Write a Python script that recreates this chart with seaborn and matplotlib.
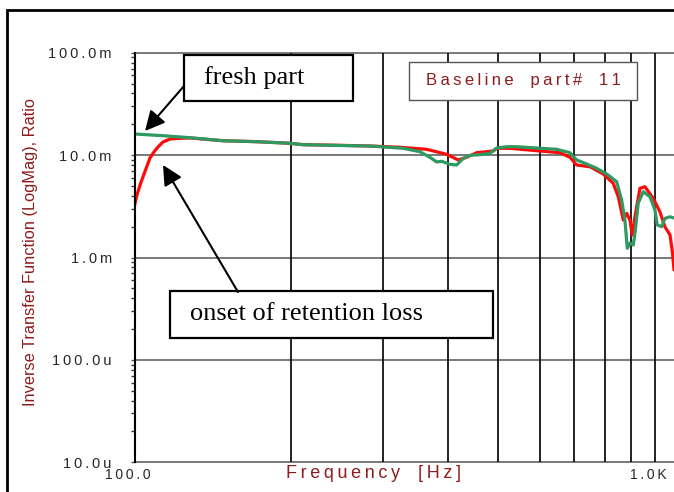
import numpy as np
import pandas as pd
import matplotlib
matplotlib.use("Agg")
import matplotlib.pyplot as plt
from matplotlib.patches import Rectangle, FancyArrowPatch
from matplotlib.transforms import ScaledTranslation
from matplotlib.ticker import FixedLocator, LogLocator, NullFormatter
import seaborn as sns

# Inverse transfer function magnitude (ratio) vs. frequency (Hz)
fresh_freq = [100.1, 113.3, 127.8, 147.8, 171.8, 198.9, 210.6, 248.1, 283.4, 328.2,
              353.4, 369.4, 380.5, 389.0, 403.6, 415.7, 428.1, 441.0, 461.0, 481.8,
              496.4, 518.8, 542.3, 592.4, 647.3, 686.5, 707.2, 739.2, 772.6, 807.6,
              844.1, 863.0, 875.6, 884.7, 895.2, 908.5, 915.4, 928.8, 949.5, 978.2,
              1000.0, 1010.0, 1030.0, 1045.0, 1069.0, 1088.0]
fresh_mag = [0.01607, 0.01547, 0.01479, 0.01382, 0.01352, 0.01304, 0.01264, 0.01241, 0.01227, 0.01165,
             0.01079, 0.00952, 0.00857, 0.00870, 0.00813, 0.00800, 0.00930, 0.00995, 0.01009, 0.01041,
             0.01173, 0.01208, 0.01208, 0.01173, 0.01139, 0.01055, 0.00896, 0.00819, 0.00743, 0.00654,
             0.00550, 0.00364, 0.00232, 0.00123, 0.001385, 0.001325, 0.001735, 0.00340, 0.00439, 0.00392,
             0.00291, 0.00208, 0.00200, 0.00241, 0.00250, 0.00243]

aged_freq = [100.0, 101.0, 102.4, 103.7, 105.6, 107.0, 108.9, 110.4, 113.3, 116.9,
             122.2, 127.8, 147.8, 171.8, 198.9, 210.6, 248.1, 283.4, 323.6, 364.0,
             397.8, 418.6, 434.6, 454.3, 488.9, 496.4, 526.6, 592.4, 656.8, 686.5,
             707.2, 750.2, 795.4, 831.4, 850.2, 869.2, 882.4, 895.2, 904.5, 915.4,
             935.8, 956.7, 992.4, 1022.0, 1045.0, 1069.0, 1081.0, 1088.0]
aged_mag = [0.00326, 0.00408, 0.00510, 0.00611, 0.00783, 0.00937, 0.01072, 0.01173, 0.01342, 0.01436,
            0.01459, 0.01469, 0.01382, 0.01352, 0.01304, 0.01264, 0.01246, 0.01227, 0.01192, 0.01139,
            0.01018, 0.00896, 0.00952, 0.01055, 0.01096, 0.01165, 0.01165, 0.01104, 0.01055, 0.00952,
            0.00800, 0.00770, 0.00654, 0.00530, 0.00392, 0.00232, 0.00270, 0.00232, 0.00166, 0.00250,
            0.00474, 0.00491, 0.00378, 0.00280, 0.00200, 0.00166, 0.00110, 0.000755]

y_ticks = [1e-5, 1e-4, 1e-3, 1e-2, 1e-1]
y_tick_labels = ["10.0u", "100.0u", "1.0m", "10.0m", "100.0m"]
x_ticks = [100, 1000]
x_tick_labels = ["100.0", "1.0K"]
x_grid = [200, 300, 400, 500, 600, 700, 800, 900, 1000]

W, H = 674, 492
sns.set_style("white")
plt.rcParams["font.family"] = ["Liberation Sans", "DejaVu Sans"]

DARK_RED = "#8b1c1c"
GREEN = "#2e9a62"
RED = "#ff0a0a"
SERIF = ["Liberation Serif", "DejaVu Serif"]


def spaced(s):
    # letter-spaced label text
    return "\u2009".join(s.replace(" ", "\u2009\u2009"))


def fx(x):
    return x / W


def fy(y):
    return 1 - y / H


fig = plt.figure(figsize=(W / 100, H / 100), dpi=100)
ax = fig.add_axes([fx(134.7), fy(462.3), 1 - fx(134.7), fy(52.7) - fy(462.3)])

df = pd.concat([
    pd.DataFrame({"freq": aged_freq, "mag": aged_mag, "part": "aged"}),
    pd.DataFrame({"freq": fresh_freq, "mag": fresh_mag, "part": "fresh"}),
])
sns.lineplot(data=df, x="freq", y="mag", hue="part", palette={"aged": RED, "fresh": GREEN},
             ax=ax, linewidth=2.3, legend=False, sort=False, estimator=None, zorder=5)

ax.set_xscale("log")
ax.set_yscale("log")
ax.set_xlim(100, 1088)
ax.set_ylim(1e-5, 1e-1)

# grid
for yv in y_ticks:
    ax.axhline(yv, color="#6e6e6e", lw=1.3, zorder=2, clip_on=False)
for xv in x_grid:
    ax.axvline(xv, color="#111111", lw=1.3, zorder=2)

for side in ["top", "right", "bottom"]:
    ax.spines[side].set_visible(False)
ax.spines["left"].set_color("black")
ax.spines["left"].set_linewidth(1.5)
ax.spines["left"].set_zorder(6)

ax.yaxis.set_major_locator(FixedLocator(y_ticks))
ax.set_yticklabels([spaced(t) for t in y_tick_labels])
ax.yaxis.set_minor_locator(LogLocator(base=10, subs=np.arange(2, 10)))
ax.yaxis.set_minor_formatter(NullFormatter())
ax.tick_params(axis="y", which="major", length=3, width=1, color="#555555",
               pad=13.5, labelsize=10.5, direction="out", left=True)
ax.tick_params(axis="y", which="minor", length=3, width=1, color="#333333",
               direction="out", left=True)

ax.xaxis.set_major_locator(FixedLocator(x_ticks))
ax.set_xticklabels([spaced(t) for t in x_tick_labels])
ax.xaxis.set_minor_locator(FixedLocator([]))
ax.tick_params(axis="x", which="major", length=0, pad=4, labelsize=10, bottom=True)
for lab in ax.get_xticklabels():
    lab.set_transform(lab.get_transform() + ScaledTranslation(-7 / 100, 0, fig.dpi_scale_trans))

ax.set_xlabel("")
ax.set_ylabel("")

fig.text(fx(374), fy(473), spaced("Frequency [Hz]"), color=DARK_RED, fontsize=13,
         ha="center", va="center")
fig.text(fx(31), fy(252), "Inverse Transfer Function (LogMag), Ratio", color=DARK_RED,
         fontsize=11.8, rotation=90, ha="center", va="center")

# outer frame
fig.add_artist(Rectangle((fx(7), fy(520)), 1.2, fy(10) - fy(520), transform=fig.transFigure,
                         fill=False, edgecolor="black", lw=2, zorder=0))


def text_box(x0, y0, x1, y1, text, edge, lw, left_pad=None, **kw):
    fig.add_artist(Rectangle((fx(x0), fy(y1)), fx(x1) - fx(x0), fy(y0) - fy(y1),
                             transform=fig.transFigure, facecolor="white",
                             edgecolor=edge, lw=lw, zorder=8))
    if left_pad is None:
        t = fig.text(fx((x0 + x1) / 2), fy((y0 + y1) / 2), text, ha="center", va="center", **kw)
    else:
        t = fig.text(fx(x0 + left_pad), fy((y0 + y1) / 2), text, ha="left", va="center", **kw)
    t.set_zorder(9)


text_box(184, 55, 353, 101, "fresh part", "black", 1.6, left_pad=20,
         fontsize=19, family=SERIF, color="black")
text_box(170, 291, 493, 338, "onset of retention loss", "black", 1.6, left_pad=20,
         fontsize=19, family=SERIF, color="black")
text_box(409, 62, 637, 100, spaced("Baseline part# 11"), "#555555", 1.0,
         fontsize=12, color=DARK_RED)

arrow = dict(arrowstyle="-|>", color="black", lw=1.5, mutation_scale=30, shrinkA=0, shrinkB=0)
fig.add_artist(FancyArrowPatch((fx(184), fy(86)), (fx(145), fy(131)),
                               transform=fig.transFigure, zorder=10, **arrow))
fig.add_artist(FancyArrowPatch((fx(238), fy(292)), (fx(163), fy(165)),
                               transform=fig.transFigure, zorder=10, **arrow))

fig.savefig("out.png", dpi=100)
